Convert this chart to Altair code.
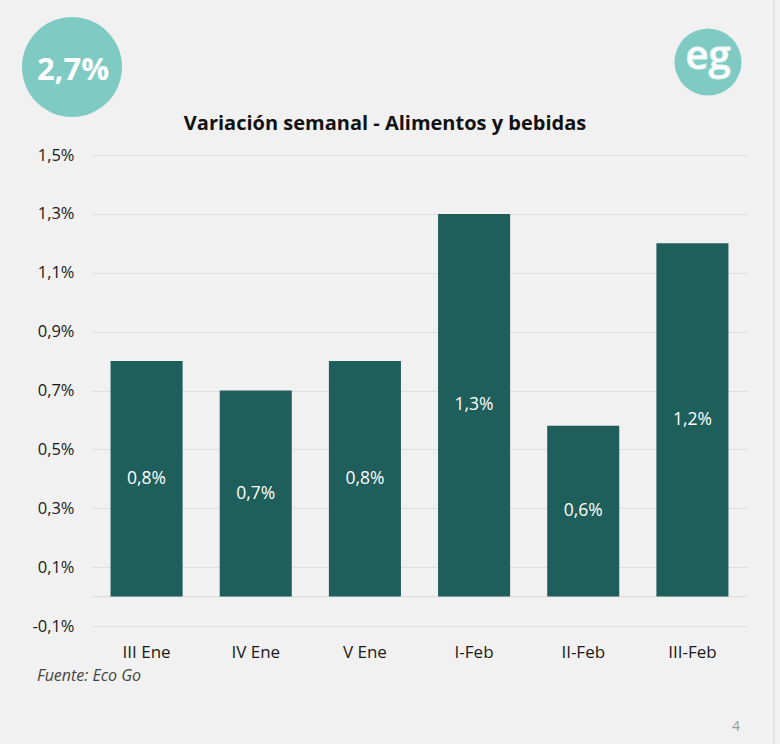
import altair as alt
import pandas as pd

# Weekly food & beverage price variation (%)
weeks = ["III Ene", "IV Ene", "V Ene", "I-Feb", "II-Feb", "III-Feb"]
variation = [0.8, 0.7, 0.8, 1.3, 0.58, 1.2]
y_ticks = [-0.1, 0.1, 0.3, 0.5, 0.7, 0.9, 1.1, 1.3, 1.5]

headline = "2,7%"
title_text = "Variación semanal - Alimentos y bebidas"
source_text = "Fuente: Eco Go"
logo_text = "eg"
page_text = "4"

FONT = "Open Sans"
BAR = "#1E5E5B"
BADGE = "#7FCBC4"
BG = "#F1F1F1"
GRID = "#DEDEDE"

W, H = 655, 471
LEFT, TOP = 92, 155

# Spanish-style percent label: decimal comma, plain hyphen for negatives
PCT = "replace(replace(format(datum.value, '.1f'), '.', ','), '\u2212', '-') + '%'"

df = pd.DataFrame({"week": weeks, "value": variation})

x_enc = alt.X(
    "week:N",
    sort=weeks,
    title=None,
    scale=alt.Scale(paddingInner=0.34, paddingOuter=0.17),
    axis=alt.Axis(
        labelAngle=0, ticks=False, domain=False, labelPadding=18,
        labelFont=FONT, labelFontSize=17, labelColor="#1a1a1a",
    ),
)
y_scale = alt.Scale(domain=[-0.1, 1.5], nice=False, zero=False)

bars = alt.Chart(df).mark_bar(color=BAR).encode(
    x=x_enc,
    y=alt.Y(
        "value:Q",
        scale=y_scale,
        title=None,
        axis=alt.Axis(
            values=y_ticks, ticks=False, domain=False, grid=True,
            gridColor=GRID, gridWidth=1.2, labelPadding=18,
            labelFont=FONT, labelFontSize=16.5, labelColor="#1a1a1a",
            labelExpr=PCT,
        ),
    ),
    y2=alt.datum(0),
)

labels = alt.Chart(df).transform_calculate(
    mid="datum.value / 2",
    txt=PCT,
).mark_text(color="white", font=FONT, fontSize=17.5, baseline="middle").encode(
    x=alt.X("week:N", sort=weeks),
    y=alt.Y("mid:Q", scale=y_scale),
    text="txt:N",
)

zero_line = alt.Chart(pd.DataFrame({"z": [0]})).mark_rule(
    color=GRID, strokeWidth=1.2
).encode(y=alt.Y("z:Q", scale=y_scale))

one = pd.DataFrame({"k": [0]})

# Headline badge, top left (symbol size = diameter squared)
badge = alt.Chart(one).mark_point(
    shape="circle", filled=True, color=BADGE, opacity=1, size=100 * 100
).encode(x=alt.value(72 - LEFT), y=alt.value(67 - TOP))
badge_txt = alt.Chart(one).mark_text(
    text=headline, font=FONT, fontSize=31, fontWeight="bold", color="white",
    baseline="middle",
).encode(x=alt.value(73 - LEFT), y=alt.value(71 - TOP))

# Logo, top right
logo = alt.Chart(one).mark_point(
    shape="circle", filled=True, color=BADGE, opacity=1, size=67 * 67
).encode(x=alt.value(708 - LEFT), y=alt.value(62 - TOP))
logo_txt = alt.Chart(one).mark_text(
    text=logo_text, font=FONT, fontSize=40, fontWeight=600, color="white",
    baseline="middle", stroke="#e4f4f2", strokeWidth=1,
).encode(x=alt.value(708 - LEFT), y=alt.value(57 - TOP))

title = alt.Chart(one).mark_text(
    text=title_text, font=FONT, fontSize=20, fontWeight="bold", color="#111111",
    baseline="alphabetic",
).encode(x=alt.value(385 - LEFT), y=alt.value(130 - TOP))

source = alt.Chart(one).mark_text(
    text=source_text, font=FONT, fontSize=16, fontStyle="italic",
    color="#444444", align="left", baseline="alphabetic",
).encode(x=alt.value(37 - LEFT), y=alt.value(681 - TOP))

page = alt.Chart(one).mark_text(
    text=page_text, font=FONT, fontSize=14, color="#999999",
    baseline="alphabetic",
).encode(x=alt.value(736 - LEFT), y=alt.value(731 - TOP))

edge = alt.Chart(one).mark_rule(color="#E2E2E2", strokeWidth=2).encode(
    x=alt.value(774 - LEFT), y=alt.value(-TOP), y2=alt.value(744 - TOP)
)

chart = alt.layer(
    zero_line, bars, labels, badge, badge_txt, logo, logo_txt, title, source,
    page, edge,
).properties(
    width=W,
    height=H,
    background=BG,
    padding={"left": LEFT, "top": TOP, "right": 780 - LEFT - W, "bottom": 744 - TOP - H},
    autosize=alt.AutoSizeParams(type="none"),
).configure_view(stroke=None)

chart.save("out.html", embed_options={"renderer": "svg", "actions": False})
